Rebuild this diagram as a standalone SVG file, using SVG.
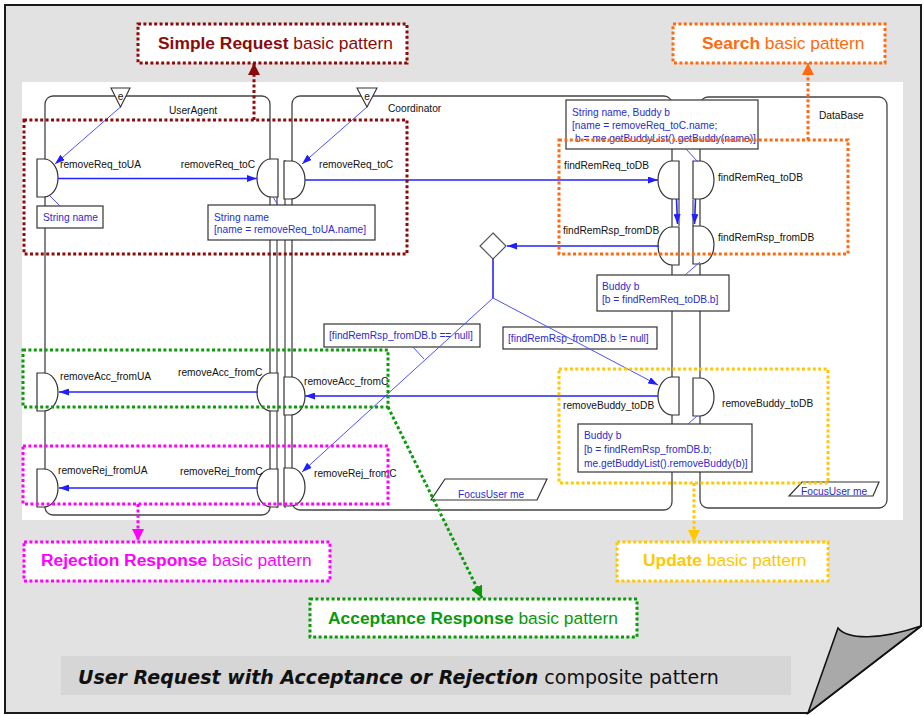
<svg xmlns="http://www.w3.org/2000/svg" width="924" height="715" viewBox="0 0 924 715">
<style>
.lbl{font-family:"Liberation Sans",Arial,sans-serif;font-size:10.2px;fill:#111}
.blu{font-family:"Liberation Sans",Arial,sans-serif;font-size:10.2px;fill:#2b2bd0}
.note{fill:#fff;stroke:#333;stroke-width:1.2}
.life{fill:#fff;stroke:#444;stroke-width:1.3}
.col{fill:none;stroke:#444;stroke-width:1.2}
.port{fill:#fff;stroke:#333;stroke-width:1.2}
.msg{fill:none;stroke:#2323ff;stroke-width:1.6}
.thin{fill:none;stroke:#4f4fff;stroke-width:1}
.dot{fill:none;stroke-width:3;stroke-dasharray:3 2.4}
.tag{fill:#fff;stroke-width:3;stroke-dasharray:3 2.4}
.big{font-family:"Liberation Sans",Arial,sans-serif;font-size:17.4px}
</style>
<defs>
<marker id="ab" viewBox="0 0 10 7" refX="10" refY="3.5" markerWidth="10" markerHeight="7" markerUnits="userSpaceOnUse" orient="auto"><path d="M0,0 L10,3.5 L0,7 Z" fill="#1f1fff"/></marker>
<marker id="ared" viewBox="0 0 12 12" refX="12" refY="6" markerWidth="12" markerHeight="12" markerUnits="userSpaceOnUse" orient="auto"><path d="M0,0 L12,6 L0,12 Z" fill="#8b0a0a"/></marker>
<marker id="aor" viewBox="0 0 12 12" refX="12" refY="6" markerWidth="12" markerHeight="12" markerUnits="userSpaceOnUse" orient="auto"><path d="M0,0 L12,6 L0,12 Z" fill="#ff6a10"/></marker>
<marker id="amg" viewBox="0 0 12 12" refX="12" refY="6" markerWidth="12" markerHeight="12" markerUnits="userSpaceOnUse" orient="auto"><path d="M0,0 L12,6 L0,12 Z" fill="#ff00ff"/></marker>
<marker id="ayl" viewBox="0 0 12 12" refX="12" refY="6" markerWidth="12" markerHeight="12" markerUnits="userSpaceOnUse" orient="auto"><path d="M0,0 L12,6 L0,12 Z" fill="#ffc800"/></marker>
<marker id="agr" viewBox="0 0 12 12" refX="12" refY="6" markerWidth="12" markerHeight="12" markerUnits="userSpaceOnUse" orient="auto"><path d="M0,0 L12,6 L0,12 Z" fill="#0a9a0a"/></marker>
</defs>

<!-- page sheet with curled corner -->
<rect width="924" height="715" fill="#fff"/>
<path d="M5,5 H921 V626 L808,713 H5 Z" fill="#e2e2e2" stroke="#1a1a1a" stroke-width="2"/>
<path d="M808,713 L838,628 C848,640 880,640 921,626 Z" fill="#a9a9a9" stroke="#111" stroke-width="1.6"/>

<!-- drawing canvas -->
<rect x="22" y="82" width="881" height="438" fill="#fff"/>

<!-- capsules -->
<g id="UserAgent">
<rect class="life" x="45" y="96" width="225" height="419" rx="8"/>
<line class="col" x1="277" y1="159" x2="277" y2="508"/>
<polygon points="111,88 130,88 120.5,107" fill="#fff" stroke="#333" stroke-width="1.1"/>
<text class="lbl" x="120.5" y="100" text-anchor="middle" font-size="10">e</text>
<text class="lbl" x="169" y="114">UserAgent</text>
</g>
<g id="Coordinator">
<rect class="life" x="292" y="96" width="380" height="414" rx="8"/>
<line class="col" x1="285" y1="160" x2="285" y2="508"/>
<line class="col" x1="679" y1="199" x2="679" y2="226"/>
<polygon points="357,88 377,88 367,107" fill="#fff" stroke="#333" stroke-width="1.1"/>
<text class="lbl" x="367" y="100" text-anchor="middle" font-size="10">e</text>
<text class="lbl" x="388" y="112">Coordinator</text>
</g>
<g id="DataBase">
<rect class="life" x="700" y="97" width="187" height="411" rx="8"/>
<line class="col" x1="693" y1="200" x2="693" y2="226"/>
<text class="lbl" x="819" y="119">DataBase</text>
</g>

<!-- ports: UserAgent -->
<g id="ua_removeReq_toUA"><path class="port" d="M37,159 H44 A14,19 0 0 1 44,197 H37 Z"/><text class="lbl" x="60" y="168">removeReq_toUA</text></g>
<g id="ua_removeReq_toC"><path class="port" d="M278,159 H271 A14,19 0 0 0 271,197 H278 Z"/><text class="lbl" x="255" y="168" text-anchor="end">removeReq_toC</text></g>
<g id="ua_removeAcc_fromUA"><path class="port" d="M37,373 H44 A14,19 0 0 1 44,411 H37 Z"/><text class="lbl" x="60" y="380">removeAcc_fromUA</text></g>
<g id="ua_removeAcc_fromC"><path class="port" d="M278,373 H271 A14,19 0 0 0 271,411 H278 Z"/><text class="lbl" x="178" y="376">removeAcc_fromC</text></g>
<g id="ua_removeRej_fromUA"><path class="port" d="M37,469 H44 A14,19 0 0 1 44,507 H37 Z"/><text class="lbl" x="58" y="474">removeRej_fromUA</text></g>
<g id="ua_removeRej_fromC"><path class="port" d="M278,469 H271 A14,19 0 0 0 271,507 H278 Z"/><text class="lbl" x="180" y="475">removeRej_fromC</text></g>

<!-- ports: Coordinator -->
<g id="c_removeReq_toC"><path class="port" d="M284,161 H291 A14,19 0 0 1 291,199 H284 Z"/><text class="lbl" x="319" y="168">removeReq_toC</text></g>
<g id="c_removeAcc_fromC"><path class="port" d="M284,377 H291 A14,19 0 0 1 291,415 H284 Z"/><text class="lbl" x="304" y="385">removeAcc_fromC</text></g>
<g id="c_removeRej_fromC"><path class="port" d="M284,468 H291 A14,19 0 0 1 291,506 H284 Z"/><text class="lbl" x="314" y="477">removeRej_fromC</text></g>
<g id="c_findRemReq_toDB"><path class="port" d="M679,161 H672 A14,19 0 0 0 672,199 H679 Z"/><text class="lbl" x="649" y="169" text-anchor="end">findRemReq_toDB</text></g>
<g id="c_findRemRsp_fromDB"><path class="port" d="M679,227 H672 A14,19 0 0 0 672,265 H679 Z"/><text class="lbl" x="563" y="234">findRemRsp_fromDB</text></g>
<g id="c_removeBuddy_toDB"><path class="port" d="M679,377 H672 A14,19 0 0 0 672,415 H679 Z"/><text class="lbl" x="563" y="409">removeBuddy_toDB</text></g>

<!-- ports: DataBase -->
<g id="db_findRemReq_toDB"><path class="port" d="M693,161 H700 A14,19 0 0 1 700,199 H693 Z"/><text class="lbl" x="718" y="181">findRemReq_toDB</text></g>
<g id="db_findRemRsp_fromDB"><path class="port" d="M693,226 H700 A14,19 0 0 1 700,264 H693 Z"/><text class="lbl" x="718" y="241">findRemRsp_fromDB</text></g>
<g id="db_removeBuddy_toDB"><path class="port" d="M693,378 H700 A14,19 0 0 1 700,416 H693 Z"/><text class="lbl" x="722" y="407">removeBuddy_toDB</text></g>

<!-- notes -->
<g id="note_ua"><rect class="note" x="37" y="206" width="66" height="22"/><text class="blu" x="43" y="221">String name</text></g>
<g id="note_c"><rect class="note" x="208" y="205" width="167" height="35"/><text class="blu" x="214" y="220.5">String name</text><text class="blu" x="214" y="232.5">[name = removeReq_toUA.name]</text></g>
<g id="note_search"><rect class="note" x="566" y="100" width="192" height="49"/><text class="blu" x="572" y="115.5">String name, Buddy b</text><text class="blu" x="572" y="128.5">[name = removeReq_toC.name;</text><text class="blu" x="575" y="141.5">b = me.getBuddyList().getBuddy(name)]</text></g>
<g id="note_found"><rect class="note" x="597" y="275" width="132" height="36"/><text class="blu" x="602" y="289.5">Buddy b</text><text class="blu" x="602" y="302.5">[b = findRemReq_toDB.b]</text></g>
<g id="note_remove"><rect class="note" x="578" y="424" width="174" height="48"/><text class="blu" x="584" y="439">Buddy b</text><text class="blu" x="584" y="452.5">[b = findRemRsp_fromDB.b;</text><text class="blu" x="584" y="466.5">me.getBuddyList().removeBuddy(b)]</text></g>
<g id="guard_null"><rect class="note" x="324" y="324" width="156" height="23"/><text class="blu" x="329" y="339">[findRemRsp_fromDB.b == null]</text></g>
<g id="guard_notnull"><rect class="note" x="503" y="327" width="154" height="22"/><text class="blu" x="508" y="342">[findRemRsp_fromDB.b != null]</text></g>
<g id="focus_c"><polygon class="note" points="445,479 547,479 537,500 431,500"/><text class="blu" x="458" y="498">FocusUser me</text></g>
<g id="focus_db"><polygon class="note" points="802,482 879,482 873,496 789,496"/><text class="blu" x="801" y="494.5">FocusUser me</text></g>
<g id="decision"><polygon points="493,233 506,246 493,259 480,246" fill="#fff" stroke="#555" stroke-width="1.2"/></g>

<!-- connectors -->
<g id="connectors">
<line class="thin" x1="120.5" y1="107" x2="55" y2="164" marker-end="url(#ab)"/>
<line class="thin" x1="367" y1="107" x2="302" y2="164" marker-end="url(#ab)"/>
<line class="msg" x1="58" y1="178.5" x2="257" y2="178.5" marker-end="url(#ab)"/>
<line class="msg" x1="305" y1="180" x2="658" y2="180" marker-end="url(#ab)"/>
<line class="msg" x1="676.5" y1="199" x2="677.5" y2="224" marker-end="url(#ab)"/>
<line class="msg" x1="695.5" y1="199" x2="694.5" y2="224" marker-end="url(#ab)"/>
<line class="msg" x1="659" y1="246" x2="507" y2="246" marker-end="url(#ab)"/>
<line class="msg" x1="493" y1="259" x2="493" y2="298" stroke-width="2.2"/>
<line class="thin" x1="493" y1="298" x2="658" y2="385" marker-end="url(#ab)"/>
<line class="thin" x1="493" y1="298" x2="302" y2="472" marker-end="url(#ab)"/>
<line class="msg" x1="658" y1="396" x2="305" y2="396" marker-end="url(#ab)"/>
<line class="msg" x1="258" y1="392" x2="59" y2="392" marker-end="url(#ab)"/>
<line class="msg" x1="258" y1="488" x2="59" y2="488" marker-end="url(#ab)"/>
<line class="thin" x1="50" y1="196" x2="60" y2="206"/>
<line class="thin" x1="273" y1="197" x2="278" y2="205"/>
<line class="thin" x1="686" y1="149" x2="698" y2="162"/>
<line class="thin" x1="700" y1="262" x2="685" y2="275"/>
<line class="thin" x1="697" y1="416" x2="688" y2="424"/>
<line class="thin" x1="413" y1="347" x2="424" y2="359"/>
</g>

<!-- basic pattern frames -->
<g id="frame_simple"><rect class="dot" x="24" y="120" width="383" height="134" stroke="#8b0a0a"/></g>
<g id="frame_search"><rect class="dot" x="559" y="140" width="289" height="114" stroke="#ff6a10"/></g>
<g id="frame_accept"><rect class="dot" x="23" y="350" width="365" height="57" stroke="#0a9a0a"/></g>
<g id="frame_reject"><rect class="dot" x="23" y="446" width="365" height="58" stroke="#ff00ff"/></g>
<g id="frame_update"><rect class="dot" x="559" y="369" width="269" height="114" stroke="#ffc800"/></g>

<!-- pattern callouts -->
<g id="callout_links">
<line class="dot" x1="254" y1="120" x2="254" y2="63" stroke="#8b0a0a" marker-end="url(#ared)"/>
<line class="dot" x1="808" y1="140" x2="808" y2="63" stroke="#ff6a10" marker-end="url(#aor)"/>
<line class="dot" x1="138" y1="504" x2="138" y2="541" stroke="#ff00ff" marker-end="url(#amg)"/>
<line class="dot" x1="694" y1="483" x2="694" y2="542" stroke="#ffc800" marker-end="url(#ayl)"/>
<line class="dot" x1="388" y1="407" x2="482" y2="598" stroke="#0a9a0a" marker-end="url(#agr)"/>
</g>
<g id="label_simple"><rect class="tag" x="138" y="24" width="269" height="39" stroke="#8b0a0a"/><text class="big" x="158" y="49" fill="#8b0a0a"><tspan font-weight="bold">Simple Request</tspan> basic pattern</text></g>
<g id="label_search"><rect class="tag" x="673" y="24" width="212" height="39" stroke="#ff6a10"/><text class="big" x="702" y="49" fill="#ff6a10"><tspan font-weight="bold">Search</tspan> basic pattern</text></g>
<g id="label_reject"><rect class="tag" x="24" y="542" width="306" height="39" stroke="#ff00ff"/><text class="big" x="41" y="566" fill="#ff00ff"><tspan font-weight="bold">Rejection Response</tspan> basic pattern</text></g>
<g id="label_update"><rect class="tag" x="617" y="542" width="211" height="39" stroke="#ffc800"/><text class="big" x="643" y="566" fill="#ffc800"><tspan font-weight="bold">Update</tspan> basic pattern</text></g>
<g id="label_accept"><rect class="tag" x="310" y="599" width="327" height="38" stroke="#0a9a0a"/><text class="big" x="328" y="624" fill="#0a9a0a"><tspan font-weight="bold">Acceptance Response</tspan> basic pattern</text></g>

<!-- title -->
<g id="title">
<rect x="61" y="656" width="730" height="39" fill="#d6d6d6"/>
<text x="78" y="684" font-family="'DejaVu Sans',Verdana,sans-serif" font-size="19" fill="#111"><tspan font-weight="bold" font-style="italic">User Request with Acceptance or Rejection</tspan> composite pattern</text>
</g>
</svg>
